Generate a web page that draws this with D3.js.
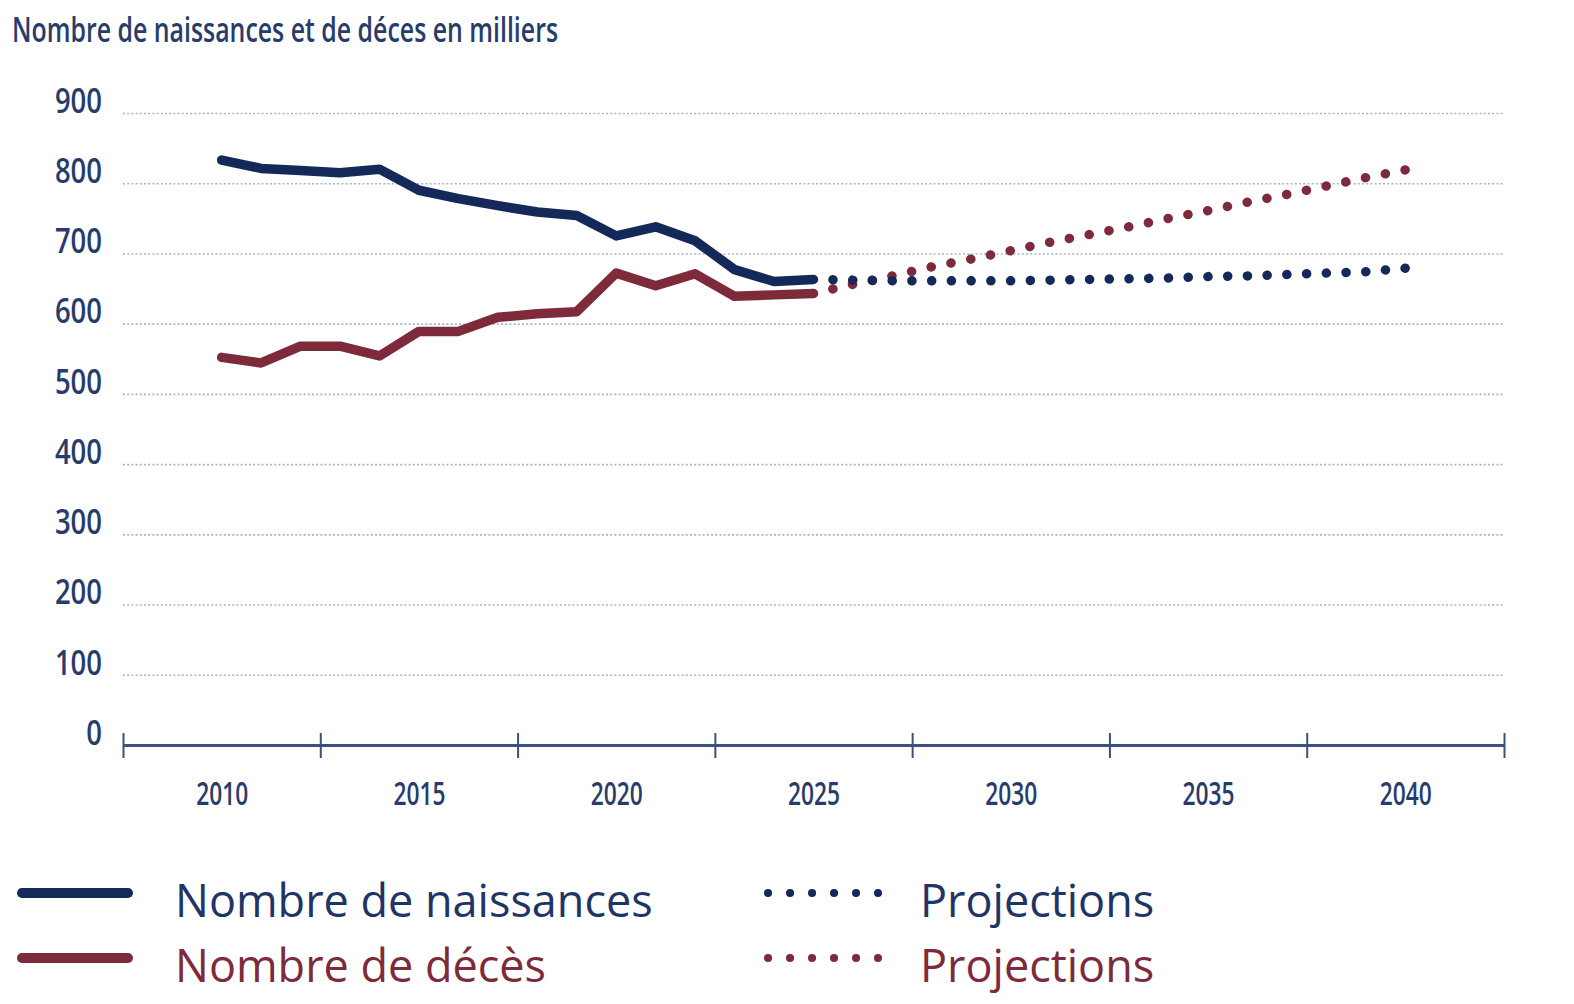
<!DOCTYPE html>
<html>
<head>
<meta charset="utf-8">
<script src="https://cdn.jsdelivr.net/npm/d3@7"></script>
<style>
  body { margin: 0; background: #fff; }
  svg { display: block; }
</style>
</head>
<body>
<svg id="chart"></svg>
<script>
// Historical values (thousands)
const histYears = [2010, 2011, 2012, 2013, 2014, 2015, 2016, 2017, 2018, 2019, 2020, 2021, 2022, 2023, 2024, 2025];
const births = [833, 821, 818, 815, 820, 790, 778, 768, 759, 754, 725, 738, 718, 677, 660, 663];
const deaths = [552, 544, 568, 568, 554, 589, 589, 609, 614, 617, 672, 654, 671, 639, 641, 643];

// Projections (thousands)
const projYears = [2025, 2026, 2027, 2028, 2029, 2030, 2031, 2032, 2033, 2034, 2035, 2036, 2037, 2038, 2039, 2040];
const birthsProj = [663, 662, 661, 661, 661, 661, 662, 663, 664, 665, 667, 668, 670, 672, 674, 679];
const deathsProj = [643, 656, 668, 681, 692, 704, 716, 727, 738, 750, 761, 773, 784, 796, 808, 819];

const yTicks = [0, 100, 200, 300, 400, 500, 600, 700, 800, 900];
const xLabels = [2010, 2015, 2020, 2025, 2030, 2035, 2040];
const xMarks = [2007.5, 2012.5, 2017.5, 2022.5, 2027.5, 2032.5, 2037.5, 2042.5];

const legendItems = [
  { label: "Nombre de naissances", color: "#14295a", text: "#1f3566", dotted: false },
  { label: "Nombre de décès", color: "#7d2b3b", text: "#7d2b3b", dotted: false },
  { label: "Projections", color: "#14295a", text: "#1f3566", dotted: true },
  { label: "Projections", color: "#7d2b3b", text: "#7d2b3b", dotted: true }
];

const width = 1574;
const height = 1004;
const blue = "#14295a";
const red = "#7d2b3b";
const axisColor = "#3e4f7b";
const labelColor = "#283c6b";
const labelFont = "'Open Sans', 'Noto Sans', sans-serif";

const svg = d3.select("#chart").attr("width", width).attr("height", height);

const x = d3.scaleLinear().domain([2007.5, 2042.5]).range([123, 1504]);
const y = d3.scaleLinear().domain([0, 900]).range([745, 113]);

// Title (condensed look)
svg.append("text")
  .attr("x", 12)
  .attr("y", 42)
  .attr("textLength", 546)
  .attr("lengthAdjust", "spacingAndGlyphs")
  .style("font-family", labelFont)
  .style("font-size", "35px")
  .style("font-weight", 600)
  .style("fill", labelColor)
  .text("Nombre de naissances et de déces en milliers");

// Dotted gridlines
const grid = svg.append("g")
  .attr("transform", `translate(${x.range()[0]},0)`)
  .call(d3.axisRight(y)
    .tickValues(yTicks.filter((d) => d > 0))
    .tickSize(x.range()[1] - x.range()[0])
    .tickFormat(""));
grid.select(".domain").remove();
grid.selectAll("line")
  .attr("stroke", "#a9b3c9")
  .attr("stroke-width", 1.6)
  .attr("stroke-dasharray", "2 2.2");

// Y labels
const yAxis = svg.append("g")
  .attr("transform", "translate(102,0)")
  .call(d3.axisLeft(y).tickValues(yTicks).tickSize(0).tickPadding(0));
yAxis.select(".domain").remove();
yAxis.selectAll("text")
  .attr("dy", "-0.02em")
  .attr("textLength", (d) => String(d).length * 15.7)
  .attr("lengthAdjust", "spacingAndGlyphs")
  .style("font-family", labelFont)
  .style("font-size", "34px")
  .style("font-weight", 600)
  .style("fill", labelColor);

// X axis line and ticks (ticks crossing the line)
const xBottom = svg.append("g")
  .attr("transform", `translate(0,${y(0)})`)
  .call(d3.axisBottom(x).tickValues(xMarks).tickSizeInner(13).tickSizeOuter(0).tickFormat(""));
const xTop = svg.append("g")
  .attr("transform", `translate(0,${y(0)})`)
  .call(d3.axisTop(x).tickValues(xMarks).tickSizeInner(12).tickSizeOuter(0).tickFormat(""));
[xBottom, xTop].forEach((g) => {
  g.select(".domain").attr("stroke", axisColor).attr("stroke-width", 3);
  g.selectAll("line").attr("stroke", axisColor).attr("stroke-width", 2);
});

// X labels
const xAxis = svg.append("g")
  .attr("transform", `translate(0,${y(0)})`)
  .call(d3.axisBottom(x).tickValues(xLabels).tickSize(0).tickPadding(37).tickFormat(d3.format("d")));
xAxis.select(".domain").remove();
xAxis.selectAll("text")
  .attr("textLength", 52)
  .attr("lengthAdjust", "spacingAndGlyphs")
  .style("font-family", labelFont)
  .style("font-size", "32px")
  .style("font-weight", 600)
  .style("fill", labelColor);

// Lines
const line = d3.line()
  .x((d) => x(d[0]))
  .y((d) => y(d[1]));

const series = [
  { years: projYears, values: deathsProj, color: red, dotted: true },
  { years: projYears, values: birthsProj, color: blue, dotted: true },
  { years: histYears, values: deaths, color: red, dotted: false },
  { years: histYears, values: births, color: blue, dotted: false }
];

series.forEach((s) => {
  const pts = s.years.map((yr, i) => [yr, s.values[i]]);
  const path = svg.append("path")
    .datum(pts)
    .attr("d", line)
    .attr("fill", "none")
    .attr("stroke", s.color)
    .attr("stroke-linecap", "round")
    .attr("stroke-linejoin", "round")
    .attr("stroke-width", 9.5);
  if (s.dotted) {
    // spread the dots so one lands on each end of the projection
    const len = path.node().getTotalLength();
    const n = Math.round(len / 20);
    path.attr("stroke-dasharray", `0.1 ${len / n - 0.1}`)
      .attr("stroke-dashoffset", 0.3);
  }
});

// Legend
const legend = svg.append("g");
legendItems.forEach((item, i) => {
  const col = Math.floor(i / 2);
  const row = i % 2;
  const gx = col === 0 ? 22 : 768;
  const gy = row === 0 ? 893 : 958;
  const g = legend.append("g").attr("transform", `translate(${gx},${gy})`);
  if (item.dotted) {
    g.append("line")
      .attr("x1", 0).attr("x2", 110)
      .attr("stroke", item.color)
      .attr("stroke-width", 8)
      .attr("stroke-linecap", "round")
      .attr("stroke-dasharray", "0.1 21.9");
  } else {
    g.append("line")
      .attr("x1", 0).attr("x2", 106)
      .attr("stroke", item.color)
      .attr("stroke-width", 10)
      .attr("stroke-linecap", "round");
  }
  g.append("text")
    .attr("x", item.dotted ? 152 : 153)
    .attr("y", 24)
    .style("font-family", labelFont)
    .style("font-size", "45px")
    .style("fill", item.text)
    .text(item.label);
});
</script>
</body>
</html>
